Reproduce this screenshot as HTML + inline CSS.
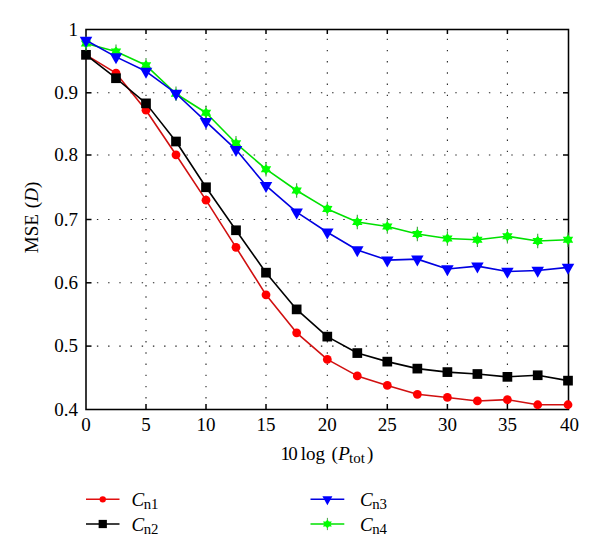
<!DOCTYPE html>
<html><head><meta charset="utf-8"><style>html,body{margin:0;padding:0;background:#fff;width:600px;height:555px;overflow:hidden}</style></head>
<body><svg width="600" height="555" viewBox="0 0 600 555" style="display:block"><rect x="0" y="0" width="600" height="555" fill="#fff"/><g stroke="#222" stroke-width="1.1" stroke-dasharray="1.4 9.799999999999999" fill="none"><line x1="146.00" y1="398.50" x2="146.00" y2="30.50"/><line x1="206.00" y1="398.50" x2="206.00" y2="30.50"/><line x1="266.00" y1="398.50" x2="266.00" y2="30.50"/><line x1="327.30" y1="398.50" x2="327.30" y2="30.50"/><line x1="387.30" y1="398.50" x2="387.30" y2="30.50"/><line x1="447.40" y1="398.50" x2="447.40" y2="30.50"/><line x1="507.40" y1="398.50" x2="507.40" y2="30.50"/><line x1="96.90" y1="346.10" x2="567.50" y2="346.10"/><line x1="96.90" y1="282.80" x2="567.50" y2="282.80"/><line x1="96.90" y1="219.50" x2="567.50" y2="219.50"/><line x1="96.90" y1="155.00" x2="567.50" y2="155.00"/><line x1="96.90" y1="92.80" x2="567.50" y2="92.80"/></g><g stroke="#000" stroke-width="1.5" fill="none"><line x1="146.00" y1="409.50" x2="146.00" y2="404.00"/><line x1="146.00" y1="29.50" x2="146.00" y2="34.00"/><line x1="206.00" y1="409.50" x2="206.00" y2="404.00"/><line x1="206.00" y1="29.50" x2="206.00" y2="34.00"/><line x1="266.00" y1="409.50" x2="266.00" y2="404.00"/><line x1="266.00" y1="29.50" x2="266.00" y2="34.00"/><line x1="327.30" y1="409.50" x2="327.30" y2="404.00"/><line x1="327.30" y1="29.50" x2="327.30" y2="34.00"/><line x1="387.30" y1="409.50" x2="387.30" y2="404.00"/><line x1="387.30" y1="29.50" x2="387.30" y2="34.00"/><line x1="447.40" y1="409.50" x2="447.40" y2="404.00"/><line x1="447.40" y1="29.50" x2="447.40" y2="34.00"/><line x1="507.40" y1="409.50" x2="507.40" y2="404.00"/><line x1="507.40" y1="29.50" x2="507.40" y2="34.00"/><line x1="86.00" y1="346.10" x2="91.50" y2="346.10"/><line x1="568.50" y1="346.10" x2="563.00" y2="346.10"/><line x1="86.00" y1="282.80" x2="91.50" y2="282.80"/><line x1="568.50" y1="282.80" x2="563.00" y2="282.80"/><line x1="86.00" y1="219.50" x2="91.50" y2="219.50"/><line x1="568.50" y1="219.50" x2="563.00" y2="219.50"/><line x1="86.00" y1="155.00" x2="91.50" y2="155.00"/><line x1="568.50" y1="155.00" x2="563.00" y2="155.00"/><line x1="86.00" y1="92.80" x2="91.50" y2="92.80"/><line x1="568.50" y1="92.80" x2="563.00" y2="92.80"/></g><rect x="86.00" y="29.50" width="482.50" height="380.00" fill="none" stroke="#000" stroke-width="1.55"/><polyline points="86.00,54.82 116.00,73.18 146.00,110.22 176.00,154.80 206.00,200.15 236.00,247.35 266.00,294.83 296.65,332.81 327.30,359.41 357.30,375.90 387.30,385.41 417.35,394.28 447.40,397.45 477.40,400.94 507.40,399.67 537.70,404.75 568.00,404.75" fill="none" stroke="#d01010" stroke-width="1.6" stroke-linejoin="round"/><g transform="translate(86.00,54.82)"><circle cx="0.00" cy="0.00" r="4.4" fill="#ff0000"/></g><g transform="translate(116.00,73.18)"><circle cx="0.00" cy="0.00" r="4.4" fill="#ff0000"/></g><g transform="translate(146.00,110.22)"><circle cx="0.00" cy="0.00" r="4.4" fill="#ff0000"/></g><g transform="translate(176.00,154.80)"><circle cx="0.00" cy="0.00" r="4.4" fill="#ff0000"/></g><g transform="translate(206.00,200.15)"><circle cx="0.00" cy="0.00" r="4.4" fill="#ff0000"/></g><g transform="translate(236.00,247.35)"><circle cx="0.00" cy="0.00" r="4.4" fill="#ff0000"/></g><g transform="translate(266.00,294.83)"><circle cx="0.00" cy="0.00" r="4.4" fill="#ff0000"/></g><g transform="translate(296.65,332.81)"><circle cx="0.00" cy="0.00" r="4.4" fill="#ff0000"/></g><g transform="translate(327.30,359.41)"><circle cx="0.00" cy="0.00" r="4.4" fill="#ff0000"/></g><g transform="translate(357.30,375.90)"><circle cx="0.00" cy="0.00" r="4.4" fill="#ff0000"/></g><g transform="translate(387.30,385.41)"><circle cx="0.00" cy="0.00" r="4.4" fill="#ff0000"/></g><g transform="translate(417.35,394.28)"><circle cx="0.00" cy="0.00" r="4.4" fill="#ff0000"/></g><g transform="translate(447.40,397.45)"><circle cx="0.00" cy="0.00" r="4.4" fill="#ff0000"/></g><g transform="translate(477.40,400.94)"><circle cx="0.00" cy="0.00" r="4.4" fill="#ff0000"/></g><g transform="translate(507.40,399.67)"><circle cx="0.00" cy="0.00" r="4.4" fill="#ff0000"/></g><g transform="translate(537.70,404.75)"><circle cx="0.00" cy="0.00" r="4.4" fill="#ff0000"/></g><g transform="translate(568.00,404.75)"><circle cx="0.00" cy="0.00" r="4.4" fill="#ff0000"/></g><polyline points="86.00,54.82 116.00,78.24 146.00,103.37 176.00,141.50 206.00,187.25 236.00,230.26 266.00,272.67 296.65,309.39 327.30,336.61 357.30,353.07 387.30,361.63 417.35,368.61 447.40,372.09 477.40,374.00 507.40,376.85 537.70,375.26 568.00,380.65" fill="none" stroke="#000" stroke-width="1.6" stroke-linejoin="round"/><g transform="translate(86.00,54.82)"><rect x="-4.85" y="-4.85" width="9.7" height="9.7" fill="#000"/></g><g transform="translate(116.00,78.24)"><rect x="-4.85" y="-4.85" width="9.7" height="9.7" fill="#000"/></g><g transform="translate(146.00,103.37)"><rect x="-4.85" y="-4.85" width="9.7" height="9.7" fill="#000"/></g><g transform="translate(176.00,141.50)"><rect x="-4.85" y="-4.85" width="9.7" height="9.7" fill="#000"/></g><g transform="translate(206.00,187.25)"><rect x="-4.85" y="-4.85" width="9.7" height="9.7" fill="#000"/></g><g transform="translate(236.00,230.26)"><rect x="-4.85" y="-4.85" width="9.7" height="9.7" fill="#000"/></g><g transform="translate(266.00,272.67)"><rect x="-4.85" y="-4.85" width="9.7" height="9.7" fill="#000"/></g><g transform="translate(296.65,309.39)"><rect x="-4.85" y="-4.85" width="9.7" height="9.7" fill="#000"/></g><g transform="translate(327.30,336.61)"><rect x="-4.85" y="-4.85" width="9.7" height="9.7" fill="#000"/></g><g transform="translate(357.30,353.07)"><rect x="-4.85" y="-4.85" width="9.7" height="9.7" fill="#000"/></g><g transform="translate(387.30,361.63)"><rect x="-4.85" y="-4.85" width="9.7" height="9.7" fill="#000"/></g><g transform="translate(417.35,368.61)"><rect x="-4.85" y="-4.85" width="9.7" height="9.7" fill="#000"/></g><g transform="translate(447.40,372.09)"><rect x="-4.85" y="-4.85" width="9.7" height="9.7" fill="#000"/></g><g transform="translate(477.40,374.00)"><rect x="-4.85" y="-4.85" width="9.7" height="9.7" fill="#000"/></g><g transform="translate(507.40,376.85)"><rect x="-4.85" y="-4.85" width="9.7" height="9.7" fill="#000"/></g><g transform="translate(537.70,375.26)"><rect x="-4.85" y="-4.85" width="9.7" height="9.7" fill="#000"/></g><g transform="translate(568.00,380.65)"><rect x="-4.85" y="-4.85" width="9.7" height="9.7" fill="#000"/></g><polyline points="86.00,43.43 116.00,51.60 146.00,65.30 176.00,93.73 206.00,112.80 236.00,143.30 266.00,169.19 296.65,190.47 327.30,208.90 357.30,222.03 387.30,226.46 417.35,234.06 447.40,238.49 477.40,239.76 507.40,236.27 537.70,241.02 568.00,239.76" fill="none" stroke="#00e000" stroke-width="1.6" stroke-linejoin="round"/><g transform="translate(86.00,43.43)"><line x1="0.00" y1="-7.20" x2="0.00" y2="7.20" stroke="#3f9a3f" stroke-width="1.1"/><polygon points="0.00,-5.20 -1.75,-3.03 -5.20,-3.00 -3.50,-0.00 -5.20,3.00 -1.75,3.03 -0.00,5.20 1.75,3.03 5.20,3.00 3.50,0.00 5.20,-3.00 1.75,-3.03" fill="#00ff00"/></g><g transform="translate(116.00,51.60)"><line x1="0.00" y1="-7.20" x2="0.00" y2="7.20" stroke="#3f9a3f" stroke-width="1.1"/><polygon points="0.00,-5.20 -1.75,-3.03 -5.20,-3.00 -3.50,-0.00 -5.20,3.00 -1.75,3.03 -0.00,5.20 1.75,3.03 5.20,3.00 3.50,0.00 5.20,-3.00 1.75,-3.03" fill="#00ff00"/></g><g transform="translate(146.00,65.30)"><line x1="0.00" y1="-7.20" x2="0.00" y2="7.20" stroke="#3f9a3f" stroke-width="1.1"/><polygon points="0.00,-5.20 -1.75,-3.03 -5.20,-3.00 -3.50,-0.00 -5.20,3.00 -1.75,3.03 -0.00,5.20 1.75,3.03 5.20,3.00 3.50,0.00 5.20,-3.00 1.75,-3.03" fill="#00ff00"/></g><g transform="translate(176.00,93.73)"><line x1="0.00" y1="-7.20" x2="0.00" y2="7.20" stroke="#3f9a3f" stroke-width="1.1"/><polygon points="0.00,-5.20 -1.75,-3.03 -5.20,-3.00 -3.50,-0.00 -5.20,3.00 -1.75,3.03 -0.00,5.20 1.75,3.03 5.20,3.00 3.50,0.00 5.20,-3.00 1.75,-3.03" fill="#00ff00"/></g><g transform="translate(206.00,112.80)"><line x1="0.00" y1="-7.20" x2="0.00" y2="7.20" stroke="#3f9a3f" stroke-width="1.1"/><polygon points="0.00,-5.20 -1.75,-3.03 -5.20,-3.00 -3.50,-0.00 -5.20,3.00 -1.75,3.03 -0.00,5.20 1.75,3.03 5.20,3.00 3.50,0.00 5.20,-3.00 1.75,-3.03" fill="#00ff00"/></g><g transform="translate(236.00,143.30)"><line x1="0.00" y1="-7.20" x2="0.00" y2="7.20" stroke="#3f9a3f" stroke-width="1.1"/><polygon points="0.00,-5.20 -1.75,-3.03 -5.20,-3.00 -3.50,-0.00 -5.20,3.00 -1.75,3.03 -0.00,5.20 1.75,3.03 5.20,3.00 3.50,0.00 5.20,-3.00 1.75,-3.03" fill="#00ff00"/></g><g transform="translate(266.00,169.19)"><line x1="0.00" y1="-7.20" x2="0.00" y2="7.20" stroke="#3f9a3f" stroke-width="1.1"/><polygon points="0.00,-5.20 -1.75,-3.03 -5.20,-3.00 -3.50,-0.00 -5.20,3.00 -1.75,3.03 -0.00,5.20 1.75,3.03 5.20,3.00 3.50,0.00 5.20,-3.00 1.75,-3.03" fill="#00ff00"/></g><g transform="translate(296.65,190.47)"><line x1="0.00" y1="-7.20" x2="0.00" y2="7.20" stroke="#3f9a3f" stroke-width="1.1"/><polygon points="0.00,-5.20 -1.75,-3.03 -5.20,-3.00 -3.50,-0.00 -5.20,3.00 -1.75,3.03 -0.00,5.20 1.75,3.03 5.20,3.00 3.50,0.00 5.20,-3.00 1.75,-3.03" fill="#00ff00"/></g><g transform="translate(327.30,208.90)"><line x1="0.00" y1="-7.20" x2="0.00" y2="7.20" stroke="#3f9a3f" stroke-width="1.1"/><polygon points="0.00,-5.20 -1.75,-3.03 -5.20,-3.00 -3.50,-0.00 -5.20,3.00 -1.75,3.03 -0.00,5.20 1.75,3.03 5.20,3.00 3.50,0.00 5.20,-3.00 1.75,-3.03" fill="#00ff00"/></g><g transform="translate(357.30,222.03)"><line x1="0.00" y1="-7.20" x2="0.00" y2="7.20" stroke="#3f9a3f" stroke-width="1.1"/><polygon points="0.00,-5.20 -1.75,-3.03 -5.20,-3.00 -3.50,-0.00 -5.20,3.00 -1.75,3.03 -0.00,5.20 1.75,3.03 5.20,3.00 3.50,0.00 5.20,-3.00 1.75,-3.03" fill="#00ff00"/></g><g transform="translate(387.30,226.46)"><line x1="0.00" y1="-7.20" x2="0.00" y2="7.20" stroke="#3f9a3f" stroke-width="1.1"/><polygon points="0.00,-5.20 -1.75,-3.03 -5.20,-3.00 -3.50,-0.00 -5.20,3.00 -1.75,3.03 -0.00,5.20 1.75,3.03 5.20,3.00 3.50,0.00 5.20,-3.00 1.75,-3.03" fill="#00ff00"/></g><g transform="translate(417.35,234.06)"><line x1="0.00" y1="-7.20" x2="0.00" y2="7.20" stroke="#3f9a3f" stroke-width="1.1"/><polygon points="0.00,-5.20 -1.75,-3.03 -5.20,-3.00 -3.50,-0.00 -5.20,3.00 -1.75,3.03 -0.00,5.20 1.75,3.03 5.20,3.00 3.50,0.00 5.20,-3.00 1.75,-3.03" fill="#00ff00"/></g><g transform="translate(447.40,238.49)"><line x1="0.00" y1="-7.20" x2="0.00" y2="7.20" stroke="#3f9a3f" stroke-width="1.1"/><polygon points="0.00,-5.20 -1.75,-3.03 -5.20,-3.00 -3.50,-0.00 -5.20,3.00 -1.75,3.03 -0.00,5.20 1.75,3.03 5.20,3.00 3.50,0.00 5.20,-3.00 1.75,-3.03" fill="#00ff00"/></g><g transform="translate(477.40,239.76)"><line x1="0.00" y1="-7.20" x2="0.00" y2="7.20" stroke="#3f9a3f" stroke-width="1.1"/><polygon points="0.00,-5.20 -1.75,-3.03 -5.20,-3.00 -3.50,-0.00 -5.20,3.00 -1.75,3.03 -0.00,5.20 1.75,3.03 5.20,3.00 3.50,0.00 5.20,-3.00 1.75,-3.03" fill="#00ff00"/></g><g transform="translate(507.40,236.27)"><line x1="0.00" y1="-7.20" x2="0.00" y2="7.20" stroke="#3f9a3f" stroke-width="1.1"/><polygon points="0.00,-5.20 -1.75,-3.03 -5.20,-3.00 -3.50,-0.00 -5.20,3.00 -1.75,3.03 -0.00,5.20 1.75,3.03 5.20,3.00 3.50,0.00 5.20,-3.00 1.75,-3.03" fill="#00ff00"/></g><g transform="translate(537.70,241.02)"><line x1="0.00" y1="-7.20" x2="0.00" y2="7.20" stroke="#3f9a3f" stroke-width="1.1"/><polygon points="0.00,-5.20 -1.75,-3.03 -5.20,-3.00 -3.50,-0.00 -5.20,3.00 -1.75,3.03 -0.00,5.20 1.75,3.03 5.20,3.00 3.50,0.00 5.20,-3.00 1.75,-3.03" fill="#00ff00"/></g><g transform="translate(568.00,239.76)"><line x1="0.00" y1="-7.20" x2="0.00" y2="7.20" stroke="#3f9a3f" stroke-width="1.1"/><polygon points="0.00,-5.20 -1.75,-3.03 -5.20,-3.00 -3.50,-0.00 -5.20,3.00 -1.75,3.03 -0.00,5.20 1.75,3.03 5.20,3.00 3.50,0.00 5.20,-3.00 1.75,-3.03" fill="#00ff00"/></g><polyline points="86.00,40.32 116.00,56.90 146.00,71.30 176.00,93.48 206.00,121.60 236.00,149.60 266.00,185.60 296.65,212.15 327.30,232.22 357.30,249.95 387.30,260.08 417.35,259.13 447.40,268.94 477.40,266.09 507.40,271.47 537.70,270.52 568.00,267.35" fill="none" stroke="#0000e0" stroke-width="1.6" stroke-linejoin="round"/><g transform="translate(86.00,40.32)"><polygon points="-6.25,-3.67 6.25,-3.67 0.00,7.33" fill="#0000ff"/></g><g transform="translate(116.00,56.90)"><polygon points="-6.25,-3.67 6.25,-3.67 0.00,7.33" fill="#0000ff"/></g><g transform="translate(146.00,71.30)"><polygon points="-6.25,-3.67 6.25,-3.67 0.00,7.33" fill="#0000ff"/></g><g transform="translate(176.00,93.48)"><polygon points="-6.25,-3.67 6.25,-3.67 0.00,7.33" fill="#0000ff"/></g><g transform="translate(206.00,121.60)"><polygon points="-6.25,-3.67 6.25,-3.67 0.00,7.33" fill="#0000ff"/></g><g transform="translate(236.00,149.60)"><polygon points="-6.25,-3.67 6.25,-3.67 0.00,7.33" fill="#0000ff"/></g><g transform="translate(266.00,185.60)"><polygon points="-6.25,-3.67 6.25,-3.67 0.00,7.33" fill="#0000ff"/></g><g transform="translate(296.65,212.15)"><polygon points="-6.25,-3.67 6.25,-3.67 0.00,7.33" fill="#0000ff"/></g><g transform="translate(327.30,232.22)"><polygon points="-6.25,-3.67 6.25,-3.67 0.00,7.33" fill="#0000ff"/></g><g transform="translate(357.30,249.95)"><polygon points="-6.25,-3.67 6.25,-3.67 0.00,7.33" fill="#0000ff"/></g><g transform="translate(387.30,260.08)"><polygon points="-6.25,-3.67 6.25,-3.67 0.00,7.33" fill="#0000ff"/></g><g transform="translate(417.35,259.13)"><polygon points="-6.25,-3.67 6.25,-3.67 0.00,7.33" fill="#0000ff"/></g><g transform="translate(447.40,268.94)"><polygon points="-6.25,-3.67 6.25,-3.67 0.00,7.33" fill="#0000ff"/></g><g transform="translate(477.40,266.09)"><polygon points="-6.25,-3.67 6.25,-3.67 0.00,7.33" fill="#0000ff"/></g><g transform="translate(507.40,271.47)"><polygon points="-6.25,-3.67 6.25,-3.67 0.00,7.33" fill="#0000ff"/></g><g transform="translate(537.70,270.52)"><polygon points="-6.25,-3.67 6.25,-3.67 0.00,7.33" fill="#0000ff"/></g><g transform="translate(568.00,267.35)"><polygon points="-6.25,-3.67 6.25,-3.67 0.00,7.33" fill="#0000ff"/></g><g font-family="Liberation Serif, serif" font-size="19" fill="#000"><text x="78" y="35.50" text-anchor="end">1</text><text x="78" y="98.80" text-anchor="end">0.9</text><text x="78" y="161.00" text-anchor="end">0.8</text><text x="78" y="225.50" text-anchor="end">0.7</text><text x="78" y="288.80" text-anchor="end">0.6</text><text x="78" y="352.10" text-anchor="end">0.5</text><text x="78" y="415.50" text-anchor="end">0.4</text><text x="86.00" y="430.8" text-anchor="middle">0</text><text x="146.00" y="430.8" text-anchor="middle">5</text><text x="206.00" y="430.8" text-anchor="middle">10</text><text x="266.00" y="430.8" text-anchor="middle">15</text><text x="327.30" y="430.8" text-anchor="middle">20</text><text x="387.30" y="430.8" text-anchor="middle">25</text><text x="447.40" y="430.8" text-anchor="middle">30</text><text x="507.40" y="430.8" text-anchor="middle">35</text><text x="569.50" y="430.8" text-anchor="middle">40</text></g><text font-family="Liberation Serif, serif" font-size="19" y="460"><tspan x="280.5">1</tspan><tspan x="288.2">0</tspan><tspan x="300.7">log</tspan><tspan x="331.5">(</tspan><tspan font-style="italic" x="338.2">P</tspan><tspan font-size="15" dy="2.7" x="349">tot</tspan><tspan dy="-2.7" x="367">)</tspan></text><text font-family="Liberation Serif, serif" font-size="19" transform="translate(38,253.2) rotate(-90)">MSE<tspan dx="1.2"> (</tspan><tspan font-style="italic">D</tspan>)</text><line x1="86" y1="499.3" x2="119.5" y2="499.3" stroke="#e01010" stroke-width="1.4"/><g transform="translate(102.75,499.30) scale(0.72)"><circle cx="0.00" cy="0.00" r="4.4" fill="#ff0000"/></g><text font-family="Liberation Serif, serif" font-size="19" x="131.6" y="505.90000000000003"><tspan font-style="italic">C</tspan><tspan font-size="14.8" dy="3" dx="-0.6">n1</tspan></text><line x1="86" y1="524" x2="119.5" y2="524" stroke="#000" stroke-width="1.4"/><g transform="translate(102.75,524.00) scale(0.85)"><rect x="-4.85" y="-4.85" width="9.7" height="9.7" fill="#000"/></g><text font-family="Liberation Serif, serif" font-size="19" x="131.6" y="531"><tspan font-style="italic">C</tspan><tspan font-size="14.8" dy="3" dx="-0.6">n2</tspan></text><line x1="310.5" y1="499.3" x2="344.3" y2="499.3" stroke="#0000e0" stroke-width="1.4"/><g transform="translate(327.40,499.30) scale(0.8)"><polygon points="-6.25,-3.67 6.25,-3.67 0.00,7.33" fill="#0000ff"/></g><text font-family="Liberation Serif, serif" font-size="19" x="360.1" y="505.90000000000003"><tspan font-style="italic">C</tspan><tspan font-size="14.8" dy="3" dx="-0.6">n3</tspan></text><line x1="310.5" y1="524" x2="344.3" y2="524" stroke="#00e000" stroke-width="1.4"/><g transform="translate(327.40,524.00) scale(0.85)"><line x1="0.00" y1="-7.20" x2="0.00" y2="7.20" stroke="#3f9a3f" stroke-width="1.1"/><polygon points="0.00,-5.20 -1.75,-3.03 -5.20,-3.00 -3.50,-0.00 -5.20,3.00 -1.75,3.03 -0.00,5.20 1.75,3.03 5.20,3.00 3.50,0.00 5.20,-3.00 1.75,-3.03" fill="#00ff00"/></g><text font-family="Liberation Serif, serif" font-size="19" x="360.1" y="531"><tspan font-style="italic">C</tspan><tspan font-size="14.8" dy="3" dx="-0.6">n4</tspan></text></svg></body></html>
